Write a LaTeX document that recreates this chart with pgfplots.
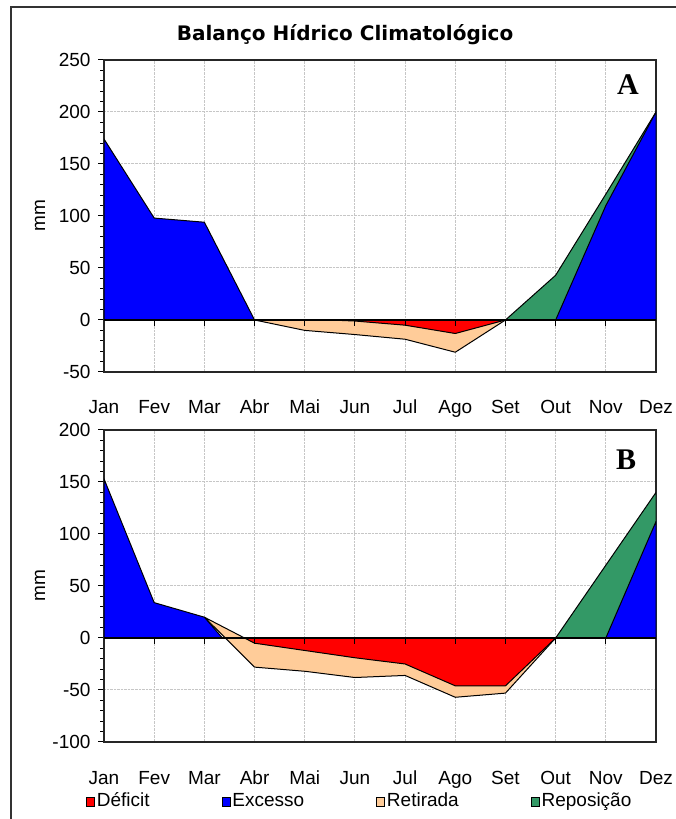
\documentclass[border=0pt]{standalone}
\usepackage{fontspec}
\setmainfont{Liberation Sans}
\newfontfamily\titlefont{DejaVu Sans}
\newfontfamily\letterfont{Liberation Serif}
\usepackage{pgfplots}
\pgfplotsset{compat=1.18}
\definecolor{exc}{RGB}{0,0,255}
\definecolor{def}{RGB}{255,0,0}
\definecolor{ret}{RGB}{255,204,153}
\definecolor{rep}{RGB}{51,153,102}
\pgfplotsset{
  bhc/.style={
    scale only axis, width=552bp, height=312bp,
    xmin=0, xmax=11,
    xtick={0,...,11},
    xticklabels={Jan,Fev,Mar,Abr,Mai,Jun,Jul,Ago,Set,Out,Nov,Dez},
    x tick style={draw=none},
    xticklabel style={anchor=base, yshift=-36bp},
    minor y tick num=4,
    ytick pos=left, tick align=outside,
    major tick length=6bp, minor tick length=4bp,
    y tick style={black, line width=1bp},
    grid=major,
    major grid style={gray!45, densely dotted, line width=1bp},
    axis line style={black!85, line width=1.5bp},
    every tick label/.append style={font=\fontsize{19bp}{22bp}\selectfont},
    yticklabel style={xshift=-4bp},
    /pgf/number format/assume math mode=true,
    ylabel={mm},
    ylabel style={font=\fontsize{19bp}{22bp}\selectfont, at={(axis description cs:-0.116,0.5)}, anchor=center},
  },
  area/.style={draw=black, line width=1bp, line join=round},
  zeroline/.style={black, line width=2bp},
  zeroticks/.style={only marks, mark=|, mark size=3bp, mark options={yshift=-3bp, line width=1bp, black}},
}
\begin{document}
\begin{tikzpicture}[x=1bp,y=1bp]
\useasboundingbox (0,0) rectangle (676,819);
\fill[white] (0,0) rectangle (676,819);
\draw[black!80, line width=1.5bp] (11,0) -- (11,812) -- (676,812);
\node[font=\titlefont\bfseries\fontsize{20bp}{24bp}\selectfont, anchor=base] at (345,778) {Balanço Hídrico Climatológico};

% ---------- Panel A ----------
\begin{axis}[bhc, at={(104bp,447bp)}, anchor=south west,
  ymin=-50, ymax=250, ytick={-50,0,50,100,150,200,250}]
\addplot[area, fill=ret] coordinates {(3,0) (4,-10) (5,-14) (6,-18.5) (7,-31) (8,0)} --cycle;
\addplot[area, fill=def] coordinates {(4.5,0) (5,-1) (6,-5) (7,-13) (8,0)} --cycle;
\addplot[area, fill=rep] coordinates {(8,0) (9,43) (10,121) (11,200) (11,0)} --cycle;
\addplot[area, fill=exc] coordinates {(0,0) (0,174) (1,98) (2,94) (3,0)} --cycle;
\addplot[area, fill=exc] coordinates {(9,0) (10,110) (11,200) (11,0)} --cycle;
\addplot[zeroline] coordinates {(0,0) (11,0)};
\addplot[zeroticks] coordinates {(1,0) (2,0) (3,0) (4,0) (5,0) (6,0) (7,0) (8,0) (9,0) (10,0)};
\node[font=\letterfont\bfseries\fontsize{30bp}{32bp}\selectfont] at (axis description cs:0.949,0.92) {A};
\end{axis}

% ---------- Panel B ----------
\begin{axis}[bhc, at={(104bp,77bp)}, anchor=south west,
  ymin=-100, ymax=200, ytick={-100,-50,0,50,100,150,200},
  legend image code/.code={\draw[#1, draw=black, line width=0.8bp] (0bp,-4.5bp) rectangle (8bp,4.5bp);},
  legend style={draw=none, fill=none, at={(axis description cs:-0.033,-0.192)}, anchor=west,
    legend columns=4, font=\fontsize{19bp}{22bp}\selectfont, inner sep=0pt,
    nodes={text height=14bp, text depth=4bp, inner sep=2bp},
    /tikz/every even column/.append style={column sep=70bp}},
  legend entries={Déficit, Excesso, Retirada, Reposição}]
\addlegendimage{fill=def}
\addlegendimage{fill=exc}
\addlegendimage{fill=ret}
\addlegendimage{fill=rep}
\addplot[area, fill=ret] coordinates {(2,20) (2.8,0) (9,0) (8,-53) (7,-57) (6,-36) (5,-38) (4,-32) (3,-28) (2.42,0)} --cycle;
\addplot[area, fill=def] coordinates {(2.8,0) (3,-5) (4,-12) (5,-19) (6,-25) (7,-46) (8,-46) (9,0)} --cycle;
\addplot[area, fill=rep] coordinates {(9,0) (10,70) (11,140) (11,0)} --cycle;
\addplot[area, fill=exc] coordinates {(0,0) (0,153) (1,34) (2,20) (2.36,0)} --cycle;
\addplot[area, fill=exc] coordinates {(10,0) (11,112) (11,0)} --cycle;
\addplot[zeroline] coordinates {(0,0) (11,0)};
\addplot[zeroticks] coordinates {(1,0) (2,0) (3,0) (4,0) (5,0) (6,0) (7,0) (8,0) (9,0) (10,0)};
\node[font=\letterfont\bfseries\fontsize{30bp}{32bp}\selectfont] at (axis description cs:0.946,0.904) {B};
\end{axis}
\end{tikzpicture}
\end{document}
